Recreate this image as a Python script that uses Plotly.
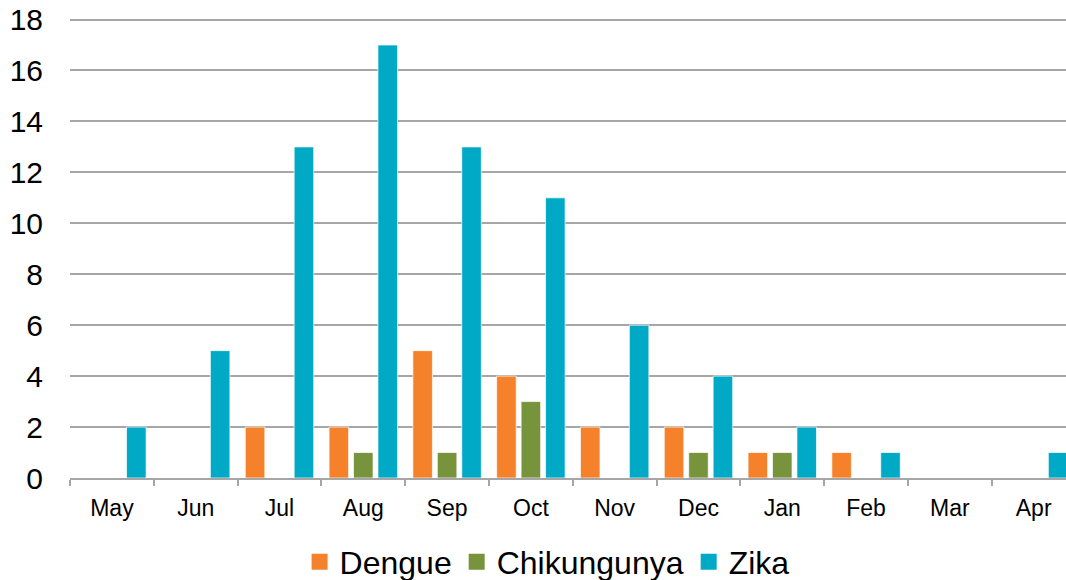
import plotly.graph_objects as go

months = ["May", "Jun", "Jul", "Aug", "Sep", "Oct", "Nov", "Dec", "Jan", "Feb", "Mar", "Apr"]
dengue = [0, 0, 2, 2, 5, 4, 2, 2, 1, 1, 0, 0]
chikungunya = [0, 0, 0, 1, 1, 3, 0, 1, 1, 0, 0, 0]
zika = [2, 5, 13, 17, 13, 11, 6, 4, 2, 1, 0, 1]

series = [
    ("Dengue", dengue, "#F5822A"),
    ("Chikungunya", chikungunya, "#77933C"),
    ("Zika", zika, "#00A9C6"),
]

FONT = "Liberation Sans, Arial, sans-serif"

fig = go.Figure()
for name, vals, col in series:
    fig.add_trace(go.Bar(
        x=months, y=vals, name=name, showlegend=False,
        marker=dict(color=col, line=dict(color="rgba(255,255,255,0.7)", width=1)),
    ))
# legend entries
for name, vals, col in series:
    fig.add_trace(go.Scatter(
        x=[None], y=[None], mode="markers", name=name,
        marker=dict(symbol="square", size=20, color=col),
    ))

fig.update_layout(
    width=1066, height=580,
    margin=dict(l=70, r=0, t=17, b=102, autoexpand=False),
    paper_bgcolor="white", plot_bgcolor="white",
    barmode="group", bargap=0.125, bargroupgap=0.2,
    font=dict(family=FONT, color="black"),
    legend=dict(
        orientation="h", x=0.479, xanchor="center", y=-0.182, yanchor="middle",
        font=dict(size=32, family=FONT), itemsizing="trace",
    ),
)
fig.update_xaxes(
    type="category", range=[-0.5, 11.386], automargin=False,
    showline=True, linecolor="#A6A6A6", linewidth=1.5,
    ticks="outside", tickson="boundaries", ticklen=6, tickcolor="#A6A6A6", tickwidth=1.5,
    tickfont=dict(size=23, family=FONT), ticklabelstandoff=9, ticklabeloverflow="allow",
    showgrid=False,
)
fig.update_yaxes(
    range=[0, 18.1], tickvals=list(range(0, 19, 2)), automargin=False,
    showgrid=True, gridcolor="#A6A6A6", gridwidth=1.5,
    zeroline=False, showline=False, ticks="",
    tickfont=dict(size=30, family=FONT), ticklabelstandoff=26, ticklabeloverflow="allow",
)

fig.write_html(
    "out.html",
    config={"displayModeBar": False},
    post_script="document.body.style.margin='0';document.body.style.overflow='hidden';",
)
